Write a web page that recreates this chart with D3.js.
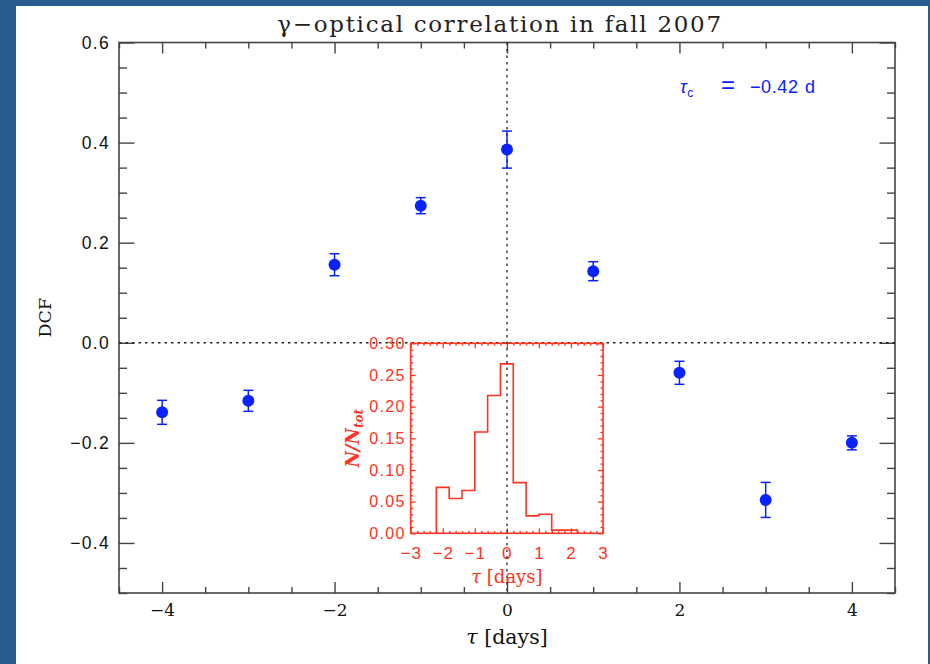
<!DOCTYPE html>
<html>
<head>
<meta charset="utf-8">
<script src="https://cdn.jsdelivr.net/npm/d3@7"></script>
<style>
  html, body { margin: 0; padding: 0; background: #285b8e; }
  svg { display: block; }
</style>
</head>
<body>
<svg id="chart" width="930" height="664"></svg>
<script>
// Discrete correlation function, gamma vs optical, fall 2007
const tauDays    = [-4, -3, -2, -1, 0, 1, 2, 3, 4];
const dcfValues  = [-0.139, -0.116, 0.156, 0.274, 0.386, 0.143, -0.060, -0.314, -0.200];
const dcfErrors  = [0.024, 0.021, 0.022, 0.016, 0.037, 0.019, 0.023, 0.035, 0.014];

// Histogram of peak lags (inset)
const histEdges     = [-2.2, -1.8, -1.4, -1.0, -0.6, -0.2, 0.2, 0.6, 1.0, 1.4, 1.8, 2.2];
const histFractions = [0.0725, 0.055, 0.0675, 0.16, 0.2175, 0.2675, 0.08, 0.0275, 0.03, 0.005, 0.005];

// Tick values
const xTicks        = [-4, -2, 0, 2, 4];
const yTicks        = [-0.4, -0.2, 0.0, 0.2, 0.4, 0.6];
const insetXTicks   = [-3, -2, -1, 0, 1, 2, 3];
const insetYTicks   = [0.00, 0.05, 0.10, 0.15, 0.20, 0.25, 0.30];

const titleText   = "γ−optical correlation in fall 2007";
const centroidLag = "−0.42";

const svg = d3.select("#chart");
const W = 930, H = 664;

const BLUE_BG = "#285b8e";
const AXIS = "#444";
const PT = "#0a22ff";
const RED = "#ff3322";

svg.append("rect").attr("width", W).attr("height", H).attr("fill", BLUE_BG);
svg.append("rect").attr("x", 16).attr("y", 6).attr("width", 912).attr("height", 658).attr("fill", "#fff");

const m = { left: 119, right: 895, top: 42.5, bottom: 593 };
const x = d3.scaleLinear().domain([-4.5, 4.5]).range([m.left, m.right]);
const y = d3.scaleLinear().domain([-0.5, 0.6]).range([m.bottom, m.top]);

const range = (a, b, s) => d3.range(Math.round((b - a) / s) + 1).map(i => +(a + i * s).toFixed(4));
const xMinor = range(-4.5, 4.5, 0.5).filter(v => !xTicks.includes(v));
const yMinor = range(-0.5, 0.6, 0.05).filter(v => !yTicks.some(t => Math.abs(t - v) < 1e-6));

const serif = "'DejaVu Serif', 'Liberation Serif', serif";
const sans = "'Liberation Sans', 'DejaVu Sans', sans-serif";

function styleAxis(g, color, width) {
  g.select(".domain").remove();
  g.selectAll(".tick line").attr("stroke", color).attr("stroke-width", width);
  return g;
}

// ---- main axes ----
const fmtX = d3.format("d");
const fmtY = d3.format(".1f");

const gBottom = svg.append("g").attr("transform", `translate(0,${m.bottom})`)
  .call(d3.axisBottom(x).tickValues(xTicks).tickSizeInner(-11).tickSizeOuter(0).tickPadding(11).tickFormat(fmtX));
styleAxis(gBottom, AXIS, 1.4);
gBottom.attr("font-family", null).attr("font-size", null);
gBottom.selectAll(".tick text").attr("fill", "#111").attr("font-family", serif).attr("font-size", 17);
svg.append("g").attr("transform", `translate(0,${m.bottom})`)
  .call(d3.axisBottom(x).tickValues(xMinor).tickSize(-6).tickFormat(""))
  .call(g => styleAxis(g, AXIS, 1.4));

svg.append("g").attr("transform", `translate(0,${m.top})`)
  .call(d3.axisTop(x).tickValues(xTicks).tickSize(-11).tickFormat(""))
  .call(g => styleAxis(g, AXIS, 1.4));
svg.append("g").attr("transform", `translate(0,${m.top})`)
  .call(d3.axisTop(x).tickValues(xMinor).tickSize(-6).tickFormat(""))
  .call(g => styleAxis(g, AXIS, 1.4));

const gLeft = svg.append("g").attr("transform", `translate(${m.left},0)`)
  .call(d3.axisLeft(y).tickValues(yTicks).tickSizeInner(-15.5).tickSizeOuter(0).tickPadding(9).tickFormat(fmtY));
styleAxis(gLeft, AXIS, 1.4);
gLeft.attr("font-family", null).attr("font-size", null);
gLeft.selectAll(".tick text").attr("fill", "#111").attr("font-family", sans).attr("font-size", 17.5).attr("letter-spacing", 1.3);
svg.append("g").attr("transform", `translate(${m.left},0)`)
  .call(d3.axisLeft(y).tickValues(yMinor).tickSize(-8).tickFormat(""))
  .call(g => styleAxis(g, AXIS, 1.4));

svg.append("g").attr("transform", `translate(${m.right},0)`)
  .call(d3.axisRight(y).tickValues(yTicks).tickSize(-15.5).tickFormat(""))
  .call(g => styleAxis(g, AXIS, 1.4));
svg.append("g").attr("transform", `translate(${m.right},0)`)
  .call(d3.axisRight(y).tickValues(yMinor).tickSize(-8).tickFormat(""))
  .call(g => styleAxis(g, AXIS, 1.4));

svg.append("rect")
  .attr("x", m.left).attr("y", m.top)
  .attr("width", m.right - m.left).attr("height", m.bottom - m.top)
  .attr("fill", "none").attr("stroke", AXIS).attr("stroke-width", 1.6);

// ---- inset frame and scales ----
const im = { left: 410.7, right: 603, top: 343.3, bottom: 533.3 };
const ix = d3.scaleLinear().domain([-3, 3]).range([im.left, im.right]);
const iy = d3.scaleLinear().domain([0, 0.30]).range([im.bottom, im.top]);

// zero-correlation reference line
svg.append("line")
  .attr("x1", m.left).attr("x2", m.right).attr("y1", y(0)).attr("y2", y(0))
  .attr("stroke", "#222").attr("stroke-width", 1.3).attr("stroke-dasharray", "2.5,4");

// histogram step line
const stepPts = [[histEdges[0], 0]];
histFractions.forEach((f, i) => {
  stepPts.push([histEdges[i], f]);
  stepPts.push([histEdges[i + 1], f]);
});
stepPts.push([histEdges[histEdges.length - 1], 0]);
svg.append("path")
  .attr("d", d3.line().x(d => ix(d[0])).y(d => iy(d[1]))(stepPts))
  .attr("fill", "none").attr("stroke", RED).attr("stroke-width", 1.6);

const ixMinor = range(-3, 3, 0.2).filter(v => !insetXTicks.some(t => Math.abs(t - v) < 1e-6));
const iyMinor = range(0, 0.30, 0.01).filter(v => !insetYTicks.some(t => Math.abs(t - v) < 1e-6));

const gIB = svg.append("g").attr("transform", `translate(0,${im.bottom})`)
  .call(d3.axisBottom(ix).tickValues(insetXTicks).tickSizeInner(-5).tickSizeOuter(0).tickPadding(14).tickFormat(d3.format("d")));
styleAxis(gIB, RED, 1.3);
gIB.attr("font-family", null).attr("font-size", null);
gIB.selectAll(".tick text").attr("fill", RED).attr("font-family", sans).attr("font-size", 17).attr("letter-spacing", 1);
svg.append("g").attr("transform", `translate(0,${im.bottom})`)
  .call(d3.axisBottom(ix).tickValues(ixMinor).tickSize(-2.5).tickFormat(""))
  .call(g => styleAxis(g, RED, 1.3));
svg.append("g").attr("transform", `translate(0,${im.top})`)
  .call(d3.axisTop(ix).tickValues(insetXTicks).tickSize(-5).tickFormat(""))
  .call(g => styleAxis(g, RED, 1.3));
svg.append("g").attr("transform", `translate(0,${im.top})`)
  .call(d3.axisTop(ix).tickValues(ixMinor).tickSize(-2.5).tickFormat(""))
  .call(g => styleAxis(g, RED, 1.3));

const gIL = svg.append("g").attr("transform", `translate(${im.left},0)`)
  .call(d3.axisLeft(iy).tickValues(insetYTicks).tickSizeInner(-5).tickSizeOuter(0).tickPadding(5).tickFormat(d3.format(".2f")));
styleAxis(gIL, RED, 1.3);
gIL.attr("font-family", null).attr("font-size", null);
gIL.selectAll(".tick text").attr("fill", RED).attr("font-family", sans).attr("font-size", 16).attr("letter-spacing", 1.3);
svg.append("g").attr("transform", `translate(${im.left},0)`)
  .call(d3.axisLeft(iy).tickValues(iyMinor).tickSize(-2.5).tickFormat(""))
  .call(g => styleAxis(g, RED, 1.3));
svg.append("g").attr("transform", `translate(${im.right},0)`)
  .call(d3.axisRight(iy).tickValues(insetYTicks).tickSize(-5).tickFormat(""))
  .call(g => styleAxis(g, RED, 1.3));
svg.append("g").attr("transform", `translate(${im.right},0)`)
  .call(d3.axisRight(iy).tickValues(iyMinor).tickSize(-2.5).tickFormat(""))
  .call(g => styleAxis(g, RED, 1.3));

svg.append("rect")
  .attr("x", im.left).attr("y", im.top)
  .attr("width", im.right - im.left).attr("height", im.bottom - im.top)
  .attr("fill", "none").attr("stroke", RED).attr("stroke-width", 1.6);

// zero-lag line, drawn over the inset
svg.append("line")
  .attr("x1", x(0)).attr("x2", x(0)).attr("y1", m.top).attr("y2", m.bottom)
  .attr("stroke", "#222").attr("stroke-width", 1.3).attr("stroke-dasharray", "2.5,4");

// inset axis titles
svg.append("text")
  .attr("x", ix(0)).attr("y", 583)
  .attr("text-anchor", "middle").attr("fill", RED)
  .attr("font-family", serif).attr("font-size", 18)
  .html("<tspan font-style='italic'>τ</tspan> [days]");
svg.append("text")
  .attr("transform", `translate(359,${(im.top + im.bottom) / 2}) rotate(-90)`)
  .attr("text-anchor", "middle").attr("fill", RED)
  .attr("font-family", serif).attr("font-size", 18).attr("font-style", "italic").attr("font-weight", "bold")
  .html("N/N<tspan dy='4' font-size='12'>tot</tspan>");

// ---- DCF points with error bars ----
const pts = svg.append("g");
tauDays.forEach((t, i) => {
  const cx = x(t), v = dcfValues[i], e = dcfErrors[i];
  pts.append("line").attr("x1", cx).attr("x2", cx).attr("y1", y(v + e)).attr("y2", y(v - e))
    .attr("stroke", PT).attr("stroke-width", 1.5);
  [v + e, v - e].forEach(c => pts.append("line")
    .attr("x1", cx - 5).attr("x2", cx + 5).attr("y1", y(c)).attr("y2", y(c))
    .attr("stroke", PT).attr("stroke-width", 1.5));
  pts.append("circle").attr("cx", cx).attr("cy", y(v)).attr("r", 6).attr("fill", PT);
});

// ---- titles ----
svg.append("text")
  .attr("x", 500).attr("y", 32)
  .attr("text-anchor", "middle").attr("fill", "#222")
  .attr("font-family", serif).attr("font-size", 23).attr("letter-spacing", 1.7)
  .text(titleText);

svg.append("text")
  .attr("x", (m.left + m.right) / 2).attr("y", 644)
  .attr("text-anchor", "middle").attr("fill", "#111")
  .attr("font-family", serif).attr("font-size", 20.5)
  .html("<tspan font-style='italic'>τ</tspan> [days]");

svg.append("text")
  .attr("transform", `translate(51,${(m.top + m.bottom) / 2}) rotate(-90)`)
  .attr("text-anchor", "middle").attr("fill", "#111")
  .attr("font-family", serif).attr("font-size", 17.5)
  .text("DCF");

// lag centroid annotation
const ann = svg.append("text").attr("y", 93).attr("fill", PT)
  .attr("font-family", sans).attr("font-size", 18).attr("letter-spacing", 0.6);
ann.append("tspan").attr("x", 680).attr("font-style", "italic").text("τ");
ann.append("tspan").attr("dy", 4).attr("font-size", 12).text("c");
ann.append("tspan").attr("x", 721).attr("dy", -4).attr("font-size", 24).text("=");
ann.append("tspan").attr("x", 750).text(centroidLag);
ann.append("tspan").attr("x", 805).text("d");
</script>
</body>
</html>
